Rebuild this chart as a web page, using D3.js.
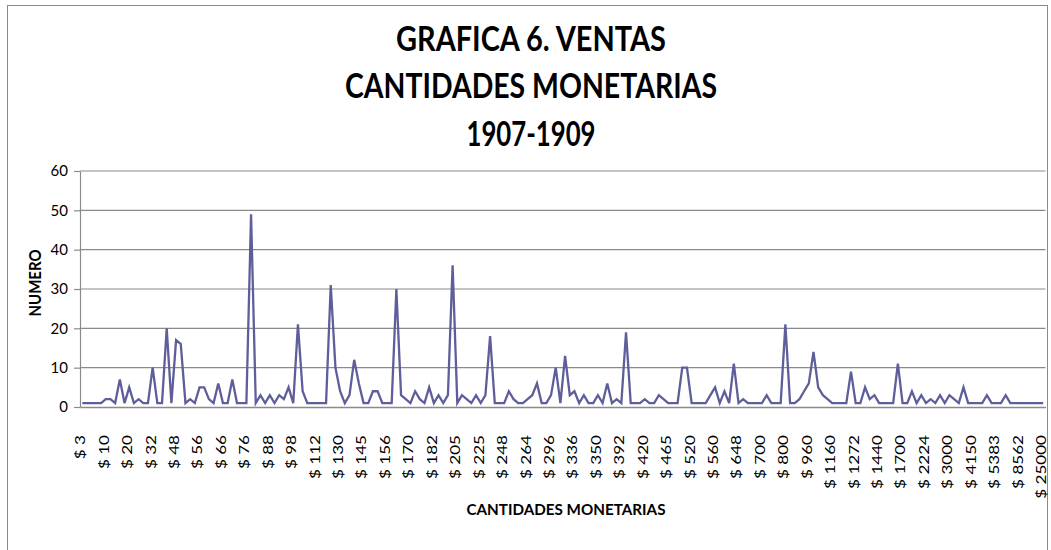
<!DOCTYPE html>
<html>
<head>
<meta charset="utf-8">
<script src="https://cdn.jsdelivr.net/npm/d3@7/dist/d3.min.js"></script>
<style>
  body { margin: 0; background: #fff; }
  svg { display: block; font-family: Lato, "Open Sans", sans-serif; }
</style>
</head>
<body>
<script>
// number of sales per monetary amount, one value per category (206 categories)
var values = [
  1,1,1,1,1, 2,2,1,7,1, 5,1,2,1,1, 10,1,1,20,1,
  17,16,1,2,1, 5,5,2,1,6, 1,1,7,1,1, 1,49,1,3,1,
  3,1,3,2,5, 1,21,4,1,1, 1,1,1,31,10, 4,1,3,12,6,
  1,1,4,4,1, 1,1,30,3,2, 1,4,2,1,5, 1,3,1,3,36,
  1,3,2,1,3, 1,3,18,1,1, 1,4,2,1,1, 2,3,6,1,1,
  3,10,1,13,3, 4,1,3,1,1, 3,1,6,1,2, 1,19,1,1,1,
  2,1,1,3,2, 1,1,1,10,10, 1,1,1,1,3, 5,1,4,1,11,
  1,2,1,1,1, 1,3,1,1,1, 21,1,1,2,4, 6,14,5,3,2,
  1,1,1,1,9, 1,1,5,2,3, 1,1,1,1,11, 1,1,4,1,3,
  1,2,1,3,1, 3,2,1,5,1, 1,1,1,3,1, 1,1,3,1,1,
  1,1,1,1,1,1
];

// labels shown on the category axis (every 5th category)
var tickLabels = ["$ 3","$ 10","$ 20","$ 32","$ 48","$ 56","$ 66","$ 76","$ 88","$ 98",
  "$ 112","$ 130","$ 145","$ 156","$ 170","$ 182","$ 205","$ 225","$ 248","$ 264",
  "$ 296","$ 336","$ 350","$ 392","$ 420","$ 465","$ 520","$ 560","$ 648","$ 700",
  "$ 800","$ 960","$ 1160","$ 1272","$ 1440","$ 1700","$ 2224","$ 3000","$ 4150","$ 5383",
  "$ 8562","$ 25000"];
var labelStep = 5;

var yTicks = [0, 10, 20, 30, 40, 50, 60];
var titleLines = ["GRAFICA 6. VENTAS", "CANTIDADES MONETARIAS", "1907-1909"];

(function () {

var width = 1051,
    height = 550,
    plotLeft = 80, plotRight = 1045.5, plotTop = 171, plotBottom = 407,
    gridColor = "#8a8a8a",
    lineColor = "#5e5e9b";

var svg = d3.select("body").append("svg")
    .attr("width", width)
    .attr("height", height);

// chart border
svg.append("rect")
    .attr("x", 7.5).attr("y", 5.5)
    .attr("width", 1040).attr("height", 600)
    .attr("fill", "none")
    .attr("stroke", gridColor);

var x = d3.scaleBand()
    .domain(d3.range(values.length))
    .range([plotLeft, plotRight]);

var y = d3.scaleLinear()
    .domain([0, 60])
    .range([plotBottom, plotTop]);

// horizontal gridlines
svg.append("g").selectAll("line")
    .data(yTicks.slice(1))
    .enter().append("line")
    .attr("x1", plotLeft).attr("x2", plotRight)
    .attr("y1", function(d){ return y(d); })
    .attr("y2", function(d){ return y(d); })
    .attr("stroke", gridColor)
    .attr("stroke-width", 1.2);

// y axis
var yAxis = svg.append("g")
    .attr("transform", "translate(" + plotLeft + ",0)")
    .call(d3.axisLeft(y).tickValues(yTicks).tickSize(6).tickSizeOuter(0).tickPadding(6));
yAxis.selectAll("line, path").attr("stroke", gridColor).attr("stroke-width", 1.2);
yAxis.selectAll("text")
    .attr("font-size", 15)
    .attr("font-family", "Lato")
    .attr("fill", "#000");

// x axis
var xAxis = svg.append("g")
    .attr("transform", "translate(0," + plotBottom + ")")
    .call(d3.axisBottom(x)
        .tickValues(d3.range(0, values.length, labelStep))
        .tickFormat(function(d){ return tickLabels[d / labelStep]; })
        .tickSize(0).tickSizeOuter(0));
xAxis.select("path").attr("stroke", gridColor).attr("stroke-width", 1.5);
xAxis.selectAll("text")
    .attr("x", 0).attr("y", 0).attr("dy", "0.35em")
    .attr("text-anchor", "end")
    .attr("transform", "translate(-2,28) rotate(-90) scale(1.22,1)")
    .attr("font-size", 14)
    .attr("font-family", "Lato")
    .attr("fill", "#000");

// data line
var line = d3.line()
    .x(function(d, i){ return x(i) + x.bandwidth() / 2; })
    .y(function(d){ return y(d); });

svg.append("path")
    .datum(values)
    .attr("d", line)
    .attr("fill", "none")
    .attr("stroke", lineColor)
    .attr("stroke-width", 2.3);

// title
var titleWidths = [270, 372, 129];
var titleBase = [51, 98, 146];
svg.append("g").selectAll("text")
    .data(titleLines)
    .enter().append("text")
    .attr("x", 531)
    .attr("y", function(d, i){ return titleBase[i]; })
    .attr("text-anchor", "middle")
    .attr("font-size", 34)
    .attr("font-weight", "bold")
    .attr("textLength", function(d, i){ return titleWidths[i]; })
    .attr("lengthAdjust", "spacingAndGlyphs")
    .text(function(d){ return d; });

// axis titles
svg.append("text")
    .attr("transform", "translate(41,283) rotate(-90)")
    .attr("text-anchor", "middle")
    .attr("font-size", 17)
    .attr("font-weight", "bold")
    .attr("textLength", 67)
    .attr("lengthAdjust", "spacingAndGlyphs")
    .text("NUMERO");

svg.append("text")
    .attr("x", 566)
    .attr("y", 515)
    .attr("text-anchor", "middle")
    .attr("font-size", 16)
    .attr("font-weight", "bold")
    .attr("textLength", 199)
    .attr("lengthAdjust", "spacingAndGlyphs")
    .text("CANTIDADES MONETARIAS");

})();
</script>
</body>
</html>
